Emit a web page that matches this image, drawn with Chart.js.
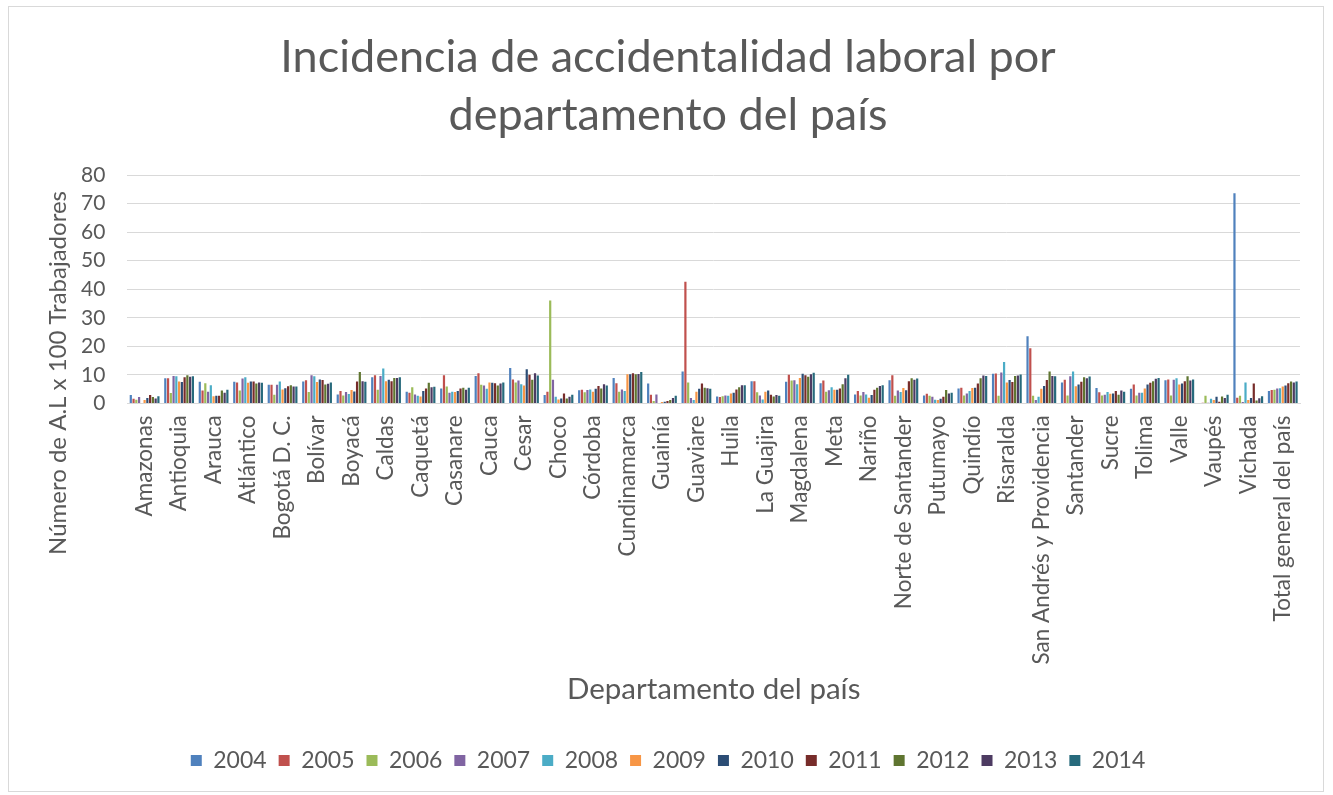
<!DOCTYPE html>
<html>
<head>
<meta charset="utf-8">
<script src="https://cdn.jsdelivr.net/npm/chart.js@4"></script>
<style>
  html, body { margin: 0; padding: 0; background: #fff; }
  #marco { position: absolute; left: 8px; top: 6px; width: 1316px; height: 786px; border: 1px solid #d9d9d9; box-sizing: border-box; }
  #grafico { display: block; }
</style>
</head>
<body>
<div id="marco"><canvas id="grafico" width="1314" height="784"></canvas></div>
<script>
// departamentos (categorías del eje x)
const departamentos = ['Amazonas', 'Antioquia', 'Arauca', 'Atlántico', 'Bogotá D. C.', 'Bolívar', 'Boyacá', 'Caldas', 'Caquetá', 'Casanare', 'Cauca', 'Cesar', 'Choco', 'Córdoba', 'Cundinamarca', 'Guainía', 'Guaviare', 'Huila', 'La Guajira', 'Magdalena', 'Meta', 'Nariño', 'Norte de Santander', 'Putumayo', 'Quindío', 'Risaralda', 'San Andrés y Providencia', 'Santander', 'Sucre', 'Tolima', 'Valle', 'Vaupés', 'Vichada', 'Total general del país'];

// valores por año, en el mismo orden de los departamentos
const a2004 = [2.9, 8.8, 7.6, 7.6, 6.5, 7.7, 3.1, 9.2, 4.1, 5.2, 9.6, 12.4, 2.9, 4.6, 8.9, 7.0, 11.2, 2.4, 7.8, 7.6, 7.1, 3.1, 8.1, 2.8, 5.2, 10.4, 23.5, 7.3, 5.4, 5.1, 8.1, 0, 73.6, 4.3];
const a2005 = [1.6, 8.8, 4.5, 7.3, 6.5, 8.1, 4.3, 9.9, 3.7, 9.9, 10.6, 8.4, 4.1, 4.8, 7.1, 3.0, 42.6, 2.2, 7.8, 10.0, 8.0, 4.3, 9.9, 3.4, 5.5, 10.5, 19.3, 8.3, 3.9, 6.6, 8.4, 0.2, 2.0, 4.7];
const a2006 = [1.3, 3.6, 7.1, 4.5, 3.0, 4.0, 2.8, 4.8, 5.7, 5.9, 6.5, 7.3, 36.0, 3.9, 4.1, 0.8, 7.3, 2.5, 3.9, 8.0, 4.1, 2.8, 2.7, 2.7, 2.8, 2.7, 2.7, 2.8, 2.8, 2.8, 2.8, 2.7, 2.7, 4.8];
const a2007 = [2.2, 9.6, 4.1, 8.7, 6.5, 9.9, 4.0, 9.6, 3.1, 3.7, 6.3, 8.0, 8.3, 4.7, 4.9, 3.1, 1.9, 2.8, 2.8, 8.1, 4.6, 4.0, 4.5, 2.3, 3.5, 10.8, 1.2, 9.5, 3.0, 3.7, 8.3, 0.2, 0.5, 5.2];
const a2008 = [0, 9.5, 6.4, 9.2, 7.7, 9.5, 3.3, 12.2, 2.7, 4.1, 5.1, 6.7, 2.3, 4.9, 4.3, 0, 1.2, 2.7, 1.4, 6.7, 5.7, 3.1, 4.0, 1.3, 4.3, 14.5, 2.3, 11.2, 4.0, 3.7, 8.8, 1.6, 7.3, 5.3];
const a2009 = [1.2, 7.7, 2.5, 7.2, 4.9, 7.5, 4.7, 7.8, 2.4, 4.0, 7.3, 6.3, 1.4, 4.1, 10.2, 0.5, 4.1, 3.5, 4.1, 8.9, 4.8, 2.0, 5.4, 1.2, 5.4, 7.3, 5.1, 6.0, 3.4, 5.2, 6.6, 1.2, 1.2, 5.9];
const a2010 = [1.9, 7.5, 2.7, 7.7, 5.3, 8.4, 4.2, 8.3, 4.3, 4.3, 7.2, 12.0, 1.7, 5.1, 10.2, 0.6, 5.1, 3.7, 4.5, 10.4, 4.8, 2.9, 4.6, 1.6, 5.5, 8.2, 6.1, 6.6, 3.5, 6.6, 7.0, 2.3, 1.9, 6.3];
const a2011 = [2.9, 9.2, 2.7, 7.7, 6.0, 8.2, 7.7, 7.8, 5.2, 5.2, 7.1, 10.0, 3.5, 6.1, 10.6, 0.8, 7.0, 4.9, 3.0, 9.9, 5.2, 4.8, 7.8, 2.3, 7.0, 7.5, 8.2, 7.6, 4.3, 7.2, 7.8, 0.6, 7.0, 7.1];
const a2012 = [2.2, 9.9, 4.5, 7.0, 6.4, 6.6, 11.0, 8.9, 7.2, 5.5, 6.3, 8.3, 1.7, 5.2, 10.2, 1.2, 5.5, 5.7, 2.4, 9.3, 6.7, 5.5, 8.8, 4.7, 8.8, 9.6, 11.2, 9.2, 3.0, 7.8, 9.5, 2.4, 1.0, 7.7];
const a2013 = [1.7, 9.3, 3.7, 7.3, 5.9, 6.9, 7.8, 8.9, 5.7, 4.8, 7.0, 10.6, 2.3, 6.7, 10.3, 1.9, 5.3, 6.4, 2.9, 10.2, 8.8, 6.1, 8.3, 3.5, 9.8, 9.8, 9.6, 8.8, 4.5, 8.6, 8.0, 1.9, 1.8, 7.3];
const a2014 = [2.5, 9.5, 4.8, 7.2, 5.9, 7.3, 7.6, 9.2, 5.8, 5.5, 7.3, 9.8, 3.0, 6.3, 11.0, 2.7, 5.1, 6.4, 2.7, 10.7, 10.0, 6.4, 8.7, 3.7, 9.6, 10.1, 9.5, 9.4, 4.1, 8.9, 8.4, 3.0, 2.5, 7.7];

const anios = ['2004', '2005', '2006', '2007', '2008', '2009', '2010', '2011', '2012', '2013', '2014'];
const valores = [a2004, a2005, a2006, a2007, a2008, a2009, a2010, a2011, a2012, a2013, a2014];
const colores = ['#4f81bd', '#c0504d', '#9bbb59', '#8064a2', '#4bacc6', '#f79646', '#2c4d75', '#772c2a', '#5f7530', '#4d3b62', '#276a7c'];

const tituloY = 'Número de A.L x 100 Trabajadores';
const gris = '#595959';
const fuente = 'Lato, "Open Sans", sans-serif';

// título del eje y, centrado como en Excel (sobre el eje más sus etiquetas)
const tituloEjeY = {
  id: 'tituloEjeY',
  afterDraw(chart) {
    const c = chart.ctx;
    const area = chart.chartArea;
    c.save();
    c.translate(area.left - 69, area.top + 198);
    c.rotate(-Math.PI / 2);
    c.fillStyle = gris;
    c.font = '24px ' + fuente;
    c.textAlign = 'center';
    c.textBaseline = 'middle';
    c.fillText(tituloY, 0, 0);
    c.restore();
  }
};

const ctx = document.getElementById('grafico');

new Chart(ctx, {
  type: 'bar',
  data: {
    labels: departamentos,
    datasets: anios.map((anio, i) => ({
      label: anio,
      data: valores[i],
      backgroundColor: colores[i],
      borderWidth: 0,
      categoryPercentage: 0.88,
      barPercentage: 0.8
    }))
  },
  options: {
    responsive: false,
    animation: false,
    layout: { padding: { left: 27, right: 23, top: 12, bottom: 9 } },
    plugins: {
      title: {
        display: true,
        text: ['Incidencia de accidentalidad laboral por', 'departamento del país'],
        color: gris,
        font: { family: fuente, size: 45, weight: 'normal', lineHeight: 1.3 },
        padding: { top: 9, bottom: 30 }
      },
      legend: {
        position: 'bottom',
        labels: {
          color: gris,
          font: { family: fuente, size: 23 },
          boxWidth: 11,
          boxHeight: 11,
          padding: 12
        }
      },
      tooltip: { enabled: false }
    },
    scales: {
      x: {
        grid: { display: false },
        border: { color: '#d9d9d9' },
        ticks: {
          color: gris,
          font: { family: fuente, size: 22.5 },
          maxRotation: 90,
          minRotation: 90,
          autoSkip: false,
          padding: 4
        },
        title: {
          display: true,
          text: 'Departamento del país',
          color: gris,
          font: { family: fuente, size: 29.5 },
          padding: { top: 3, bottom: 30 }
        }
      },
      y: {
        min: 0,
        max: 80,
        grid: { color: '#d9d9d9', tickLength: 0 },
        border: { display: false },
        ticks: {
          stepSize: 10,
          color: gris,
          font: { family: fuente, size: 21 },
          padding: 22
        },
        // espacio extra a la izquierda para el título del eje
        afterFit(escala) { escala.width += 23; }
      }
    }
  },
  plugins: [tituloEjeY]
});
</script>
</body>
</html>
